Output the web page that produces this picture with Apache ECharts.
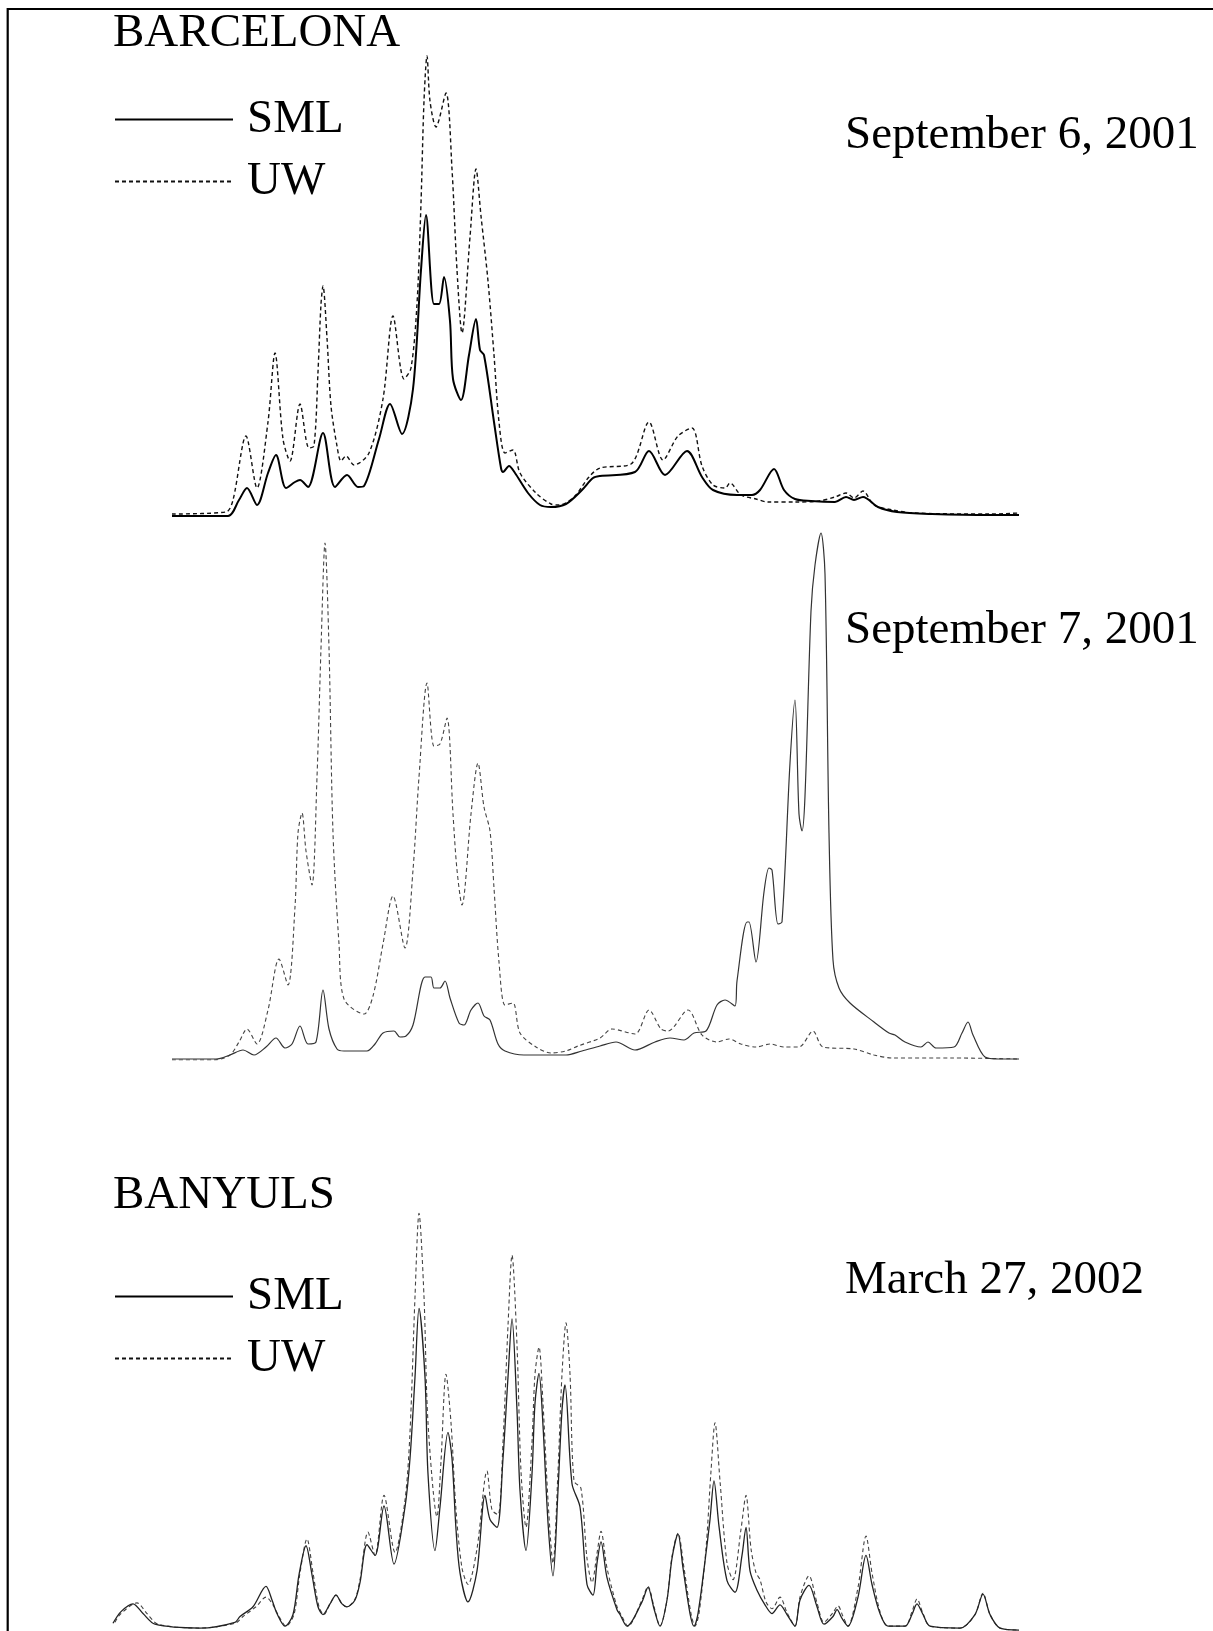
<!DOCTYPE html>
<html><head><meta charset="utf-8">
<script src="https://cdn.jsdelivr.net/npm/echarts@6/dist/echarts.min.js"></script>
<style>html,body{margin:0;padding:0;background:#fff}#c{width:1213px;height:1631px}</style>
</head><body><div id="c"></div>
<script>
// ---- data (arbitrary channel units on x, relative counts on y) ----
const seriesNames = ['SML', 'UW'];
const panelLabels = ['September 6, 2001', 'September 7, 2001', 'March 27, 2002'];
const siteLabels = ['BARCELONA', 'BANYULS'];

const sep6SML = [[0,0],[56,0],[67,16],[75,28],[85,11],[96,43],[104,61],[114,28],[123,34],[128,36],[136,29],[151,83],[163,29],[175,41],[186,29],[192,30],[207,77],[218,112],[230,82],[241,127],[249,246],[254,301],[262,212],[267,212],[272,239],[278,195],[281,137],[289,116],[297,161],[304,197],[308,166],[312,161],[322,94],[329,48],[331,44],[337,50],[343,43],[356,23],[368,11],[379,9],[394,12],[410,26],[421,38],[428,40],[463,44],[477,65],[493,41],[515,65],[530,39],[541,26],[565,21],[580,21],[588,26],[602,47],[612,26],[623,17],[639,15],[663,14],[674,19],[682,16],[691,19],[706,9],[725,4],[760,2],[819,1],[847,1]];
const sep6UW = [[0,2],[54,4],[61,16],[74,80],[85,28],[96,94],[103,163],[111,77],[118,55],[128,112],[137,68],[142,70],[146,144],[149,212],[151,230],[155,178],[159,110],[165,70],[169,55],[174,60],[182,51],[197,63],[211,117],[221,200],[232,137],[239,148],[245,212],[249,313],[252,415],[255,460],[258,415],[264,389],[274,423],[280,347],[285,246],[290,183],[298,279],[304,347],[309,300],[316,235],[322,161],[327,94],[333,63],[341,66],[348,43],[364,23],[379,12],[387,11],[402,19],[417,39],[428,48],[459,52],[477,94],[491,56],[506,80],[520,88],[530,50],[541,31],[553,28],[558,33],[569,21],[584,17],[596,14],[623,14],[647,15],[663,19],[674,23],[682,18],[691,25],[702,11],[721,6],[741,3],[819,2],[847,3]];

const sep7SML = [[0,1],[44,1],[58,5],[71,10],[82,5],[94,13],[104,22],[113,12],[120,16],[128,34],[136,16],[144,18],[151,70],[157,31],[165,11],[172,9],[195,9],[203,16],[211,27],[222,29],[228,23],[234,24],[241,35],[253,83],[259,83],[262,72],[268,72],[273,79],[278,62],[287,37],[292,35],[299,50],[306,57],[312,44],[318,40],[326,16],[333,9],[352,5],[375,5],[394,5],[410,9],[428,14],[444,18],[463,10],[483,18],[498,22],[512,20],[522,27],[534,29],[545,55],[553,60],[563,54],[565,79],[575,138],[577,138],[584,98],[592,168],[597,192],[600,190],[606,136],[610,138],[618,297],[623,360],[627,246],[630,229],[633,264],[639,449],[643,495],[649,527],[653,486],[657,227],[661,100],[667,72],[678,57],[702,38],[717,27],[723,25],[733,18],[749,13],[756,18],[764,12],[782,13],[790,27],[796,38],[801,25],[813,3],[827,1],[847,1]];
const sep7UW = [[0,0],[42,0],[58,5],[67,18],[75,31],[85,16],[96,50],[107,101],[116,75],[123,153],[126,227],[130,247],[134,209],[140,175],[145,283],[149,412],[153,517],[157,412],[161,227],[167,116],[172,61],[192,46],[201,64],[211,116],[221,164],[233,112],[241,190],[247,283],[255,377],[262,314],[268,316],[275,342],[281,246],[285,190],[290,155],[299,246],[306,297],[312,253],[318,229],[322,172],[327,98],[333,55],[341,57],[348,27],[364,13],[379,7],[394,9],[406,14],[428,22],[440,31],[463,26],[477,50],[489,31],[496,29],[516,50],[530,25],[545,18],[557,21],[569,16],[584,13],[598,16],[612,13],[627,13],[641,29],[651,13],[682,11],[702,5],[721,2],[780,2],[847,1]];

const mar27SML = [[0,8],[8,20],[20,28],[30,18],[42,7],[87,3],[122,9],[127,15],[140,25],[153,46],[159,32],[164,18],[172,5],[180,17],[186,58],[193,88],[199,58],[205,25],[210,17],[217,28],[223,37],[229,28],[234,25],[242,32],[247,50],[254,89],[262,78],[271,129],[281,69],[292,128],[297,178],[302,262],[306,333],[312,262],[315,162],[322,83],[327,128],[335,205],[339,178],[343,105],[347,60],[355,30],[364,62],[372,140],[377,115],[384,107],[390,178],[395,262],[399,322],[404,228],[407,145],[413,83],[419,162],[422,235],[426,266],[430,212],[435,112],[440,57],[445,145],[449,228],[452,254],[459,152],[467,128],[474,48],[480,37],[484,70],[488,92],[494,55],[504,22],[507,17],[514,5],[529,30],[535,45],[541,23],[547,5],[554,32],[559,75],[565,100],[570,65],[577,18],[581,5],[585,18],[592,72],[597,115],[601,155],[606,108],[614,52],[622,40],[629,78],[633,107],[637,62],[644,42],[652,27],[659,18],[667,27],[674,17],[682,5],[687,32],[696,47],[704,25],[711,7],[720,15],[724,22],[729,13],[735,5],[745,35],[753,78],[759,48],[767,18],[775,5],[792,5],[799,17],[804,28],[810,17],[817,5],[847,3],[862,17],[870,38],[877,17],[887,3],[906,1]];
const mar27UW = [[2,9],[7,17],[24,29],[34,18],[45,7],[87,3],[122,8],[130,15],[143,25],[153,35],[160,27],[166,15],[173,5],[181,17],[187,60],[194,95],[200,60],[206,25],[211,17],[217,28],[223,37],[229,28],[234,25],[242,33],[247,53],[255,102],[262,78],[271,140],[282,81],[292,135],[297,205],[302,345],[306,431],[311,345],[315,215],[324,118],[328,175],[333,265],[338,215],[343,125],[349,65],[355,48],[364,85],[374,165],[379,125],[385,120],[390,195],[395,315],[399,388],[404,295],[408,165],[413,107],[419,195],[422,265],[426,293],[430,235],[435,135],[440,70],[445,165],[449,265],[453,318],[457,265],[461,155],[468,147],[474,75],[479,50],[484,80],[488,103],[494,65],[504,25],[508,17],[515,5],[529,32],[535,46],[541,25],[547,5],[554,32],[559,77],[565,101],[571,65],[578,18],[582,5],[586,18],[593,85],[598,165],[602,215],[607,155],[614,70],[620,53],[628,105],[633,140],[638,85],[643,60],[647,53],[653,30],[659,23],[667,35],[674,19],[682,5],[687,35],[696,57],[704,29],[711,9],[720,19],[725,26],[730,15],[735,5],[745,45],[753,98],[759,60],[767,20],[775,5],[792,5],[799,20],[804,33],[810,18],[817,5],[847,3],[862,17],[870,39],[877,17],[887,3],[906,1]];

// ---- layout ----
const FONT = '"Liberation Serif", "Times New Roman", serif';
const FONT_SIZE = 47;
const grids = [
  {left: 172, top: 46, width: 847, height: 470},
  {left: 172, top: 520, width: 847, height: 540},
  {left: 113, top: 1195, width: 906, height: 450}
];
const xMax = [847, 847, 906];
const yMax = [470, 540, 450];

const styles = [
  {sml: {color: '#000', width: 2}, uw: {color: '#111', width: 1.4, type: [4, 3]}},
  {sml: {color: '#333', width: 1.2}, uw: {color: '#444', width: 1.1, type: [4, 3]}},
  {sml: {color: '#222', width: 1.3}, uw: {color: '#444', width: 1.1, type: [4, 3]}}
];
const panels = [[sep6SML, sep6UW], [sep7SML, sep7UW], [mar27SML, mar27UW]];

const hidden = {axisLine: {show: false}, axisTick: {show: false}, axisLabel: {show: false}, splitLine: {show: false}};
const xAxis = grids.map((g, i) => Object.assign({type: 'value', gridIndex: i, min: 0, max: xMax[i]}, hidden));
const yAxis = grids.map((g, i) => Object.assign({type: 'value', gridIndex: i, min: 0, max: yMax[i]}, hidden));

const series = [];
panels.forEach((p, i) => {
  // UW first so the solid SML line sits on top
  series.push({type: 'line', name: seriesNames[1], xAxisIndex: i, yAxisIndex: i, data: p[1], symbol: 'none', showSymbol: false,
    smooth: 0.3, lineStyle: styles[i].uw, itemStyle: {color: styles[i].uw.color}, z: 2});
  series.push({type: 'line', name: seriesNames[0], xAxisIndex: i, yAxisIndex: i, data: p[0], symbol: 'none', showSymbol: false,
    smooth: 0.3, lineStyle: styles[i].sml, itemStyle: {color: styles[i].sml.color}, z: 3});
});

function legendAt(top) {
  return {left: 114, top: top, orient: 'vertical', padding: 0, itemWidth: 118, itemHeight: 14, itemGap: 15,
    selectedMode: false, data: seriesNames,
    itemStyle: {opacity: 0, borderWidth: 0},
    textStyle: {fontFamily: FONT, fontSize: FONT_SIZE, color: '#000', padding: [0, 0, 0, 9]}};
}

function label(text, x, y) {
  return {type: 'text', x: x, y: y, silent: true,
    style: {text: text, font: FONT_SIZE + 'px ' + FONT, fill: '#000', align: 'left', verticalAlign: 'middle', textAlign: 'left', textVerticalAlign: 'middle'}};
}

const option = {
  animation: false,
  backgroundColor: '#fff',
  grid: grids,
  xAxis: xAxis,
  yAxis: yAxis,
  legend: [legendAt(96), legendAt(1273)],
  series: series,
  graphic: [
    {type: 'rect', silent: true, shape: {x: 7.7, y: 9, width: 1400, height: 1800}, style: {fill: 'none', stroke: '#000', lineWidth: 2.2}},
    label(siteLabels[0], 113, 34),
    label(panelLabels[0], 845, 136),
    label(panelLabels[1], 845, 631),
    label(siteLabels[1], 113, 1196),
    label(panelLabels[2], 845, 1281)
  ]
};

const chart = echarts.init(document.getElementById('c'), null, {renderer: 'canvas'});
chart.setOption(option);
</script></body></html>
